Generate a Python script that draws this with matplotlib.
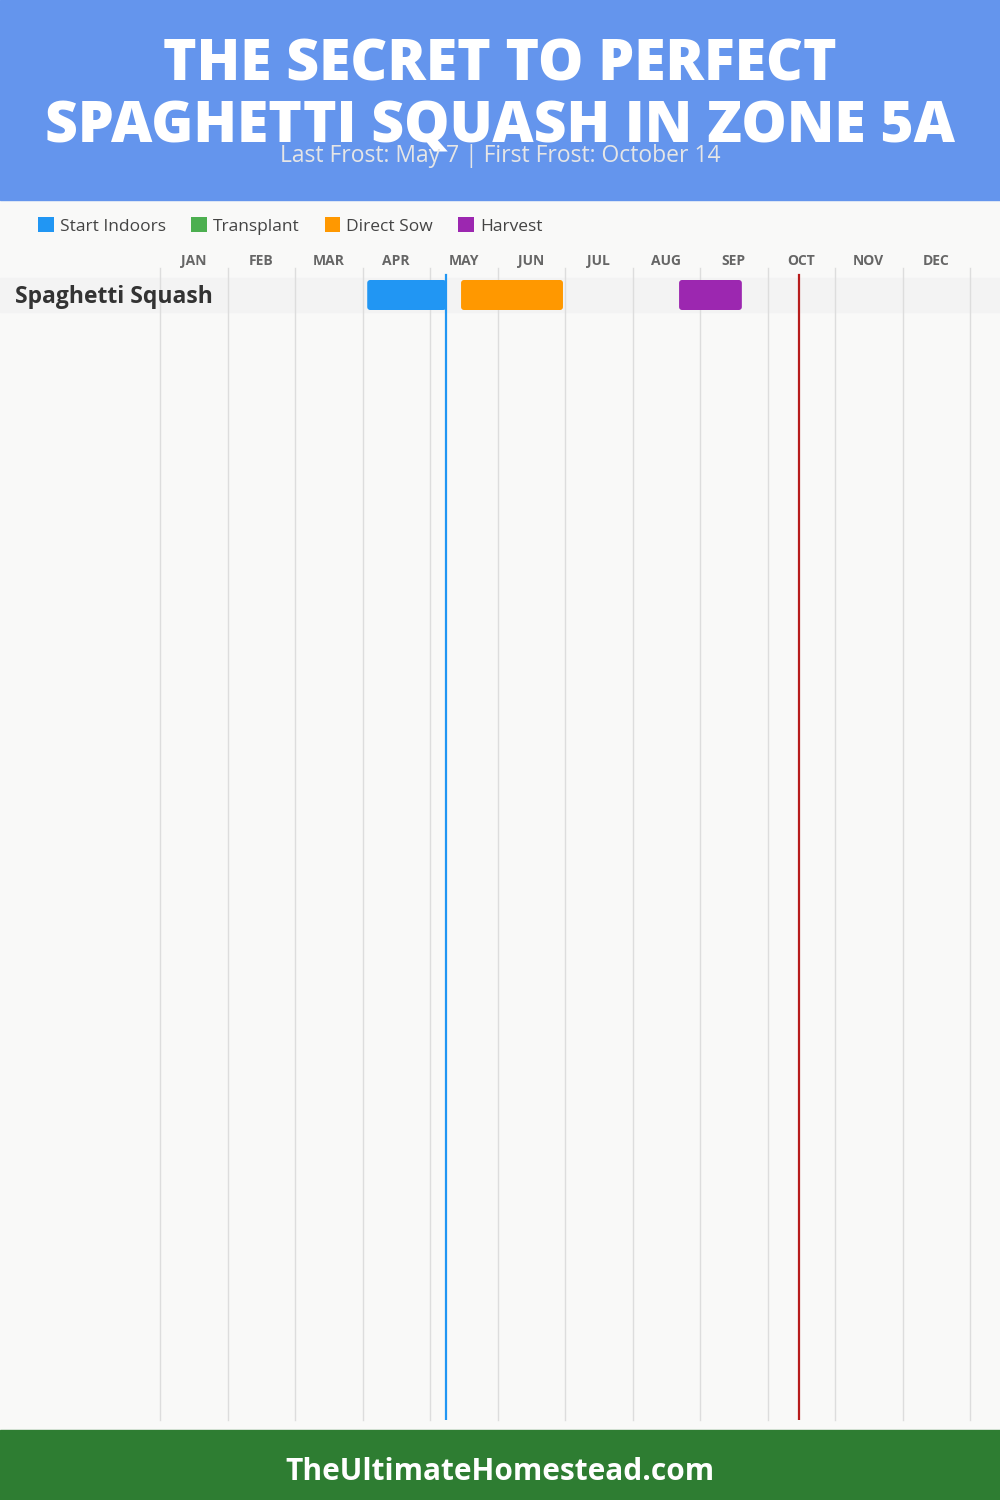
import matplotlib.pyplot as plt
import matplotlib.transforms as mtransforms
from matplotlib.patches import FancyBboxPatch, Patch, Rectangle

plt.rcParams['font.family'] = ['Open Sans', 'DejaVu Sans']

months = ["JAN", "FEB", "MAR", "APR", "MAY", "JUN",
          "JUL", "AUG", "SEP", "OCT", "NOV", "DEC"]
crops = ["Spaghetti Squash"]
# activity windows in months from Jan 1 (start, end)
start_indoors = [(3.07, 4.24)]
transplant = [None]
direct_sow = [(4.46, 5.97)]
harvest = [(7.69, 8.62)]
last_frost = 4.23   # May 7
first_frost = 9.47  # Oct 14

colors = {"Start Indoors": "#2196F3", "Transplant": "#4CAF50",
          "Direct Sow": "#FF9800", "Harvest": "#9C27B0"}

W, H = 1000, 1500
fig = plt.figure(figsize=(10, 15), dpi=100, facecolor="#f9f9f8")

# header and footer bands
fig.patches.append(Rectangle((0, 1 - 200 / H), 1, 200 / H, transform=fig.transFigure,
                             color="#6495ED", zorder=0))
fig.patches.append(Rectangle((0, 0), 1, 70 / H, transform=fig.transFigure,
                             color="#2E7D32", zorder=0))
fig.text(0.5, 1 - 66 / H, "THE SECRET TO PERFECT", ha="center", va="center",
         color="white", fontsize=41, fontweight="heavy")
fig.text(0.5, 1 - 128 / H, "SPAGHETTI SQUASH IN ZONE 5A", ha="center", va="center",
         color="white", fontsize=41, fontweight="heavy")
fig.text(0.5, 1 - 156 / H, "Last Frost: May 7 | First Frost: October 14", ha="center",
         va="center", color="#e6e6e6", fontsize=16.5)
fig.text(0.5, 1 - 1472 / H, "TheUltimateHomestead.com", ha="center", va="center",
         color="white", fontsize=21.5, fontweight="bold")

# chart axes: x in months, y in rows
top_px, bot_px = 268, 1420
row_h = 35.0
ax = fig.add_axes([160 / W, 1 - bot_px / H, 810 / W, (bot_px - top_px) / H])
ax.set_facecolor("none")
y_top = -(295 - top_px) / row_h
ax.set_ylim(y_top + (bot_px - top_px) / row_h, y_top)
ax.set_xlim(0, 12)
for s in ax.spines.values():
    s.set_visible(False)
ax.set_yticks([])
ax.set_xticks(range(13))
ax.tick_params(axis="x", length=0, labelbottom=False, labeltop=False)
ax.grid(axis="x", color="#dddddd", linewidth=1)
for gl in ax.get_xgridlines():
    gl.set_clip_on(False)
ax.set_axisbelow(True)
ax.set_xticks([i + 0.5 for i in range(12)], minor=True)
ax.set_xticklabels(months, minor=True)
ax.tick_params(axis="x", which="minor", length=0, top=False, bottom=False,
               labeltop=True, labelbottom=False, pad=2, labelsize=10,
               labelcolor="#666666")
for lbl in ax.get_xticklabels(minor=True):
    lbl.set_fontweight("bold")
    lbl.set_va("baseline")

xu = 810 / 12  # px per month
series = [("Start Indoors", start_indoors), ("Transplant", transplant),
          ("Direct Sow", direct_sow), ("Harvest", harvest)]
for i, crop in enumerate(crops):
    ax.axhspan(i - 17 / row_h, i + 17 / row_h, xmin=-160 / 810, xmax=1 + 30 / 810,
               color="#f3f3f3", zorder=0.5, clip_on=False)
    trans = mtransforms.blended_transform_factory(fig.transFigure, ax.transData)
    ax.text(15 / W, i + 2 / row_h, crop, transform=trans, ha="left", va="center",
            fontsize=16.5, fontweight="bold", color="#333333")
    for name, spans in series:
        if spans[i] is None:
            continue
        a, b = spans[i]
        hh = 15 / row_h
        box = FancyBboxPatch((a, i - hh), b - a, 2 * hh,
                             boxstyle="round,pad=0,rounding_size=%f" % (3 / xu),
                             mutation_aspect=xu / row_h,
                             facecolor=colors[name], edgecolor="none", zorder=2)
        ax.add_patch(box)

fy = (bot_px - 275) / (bot_px - top_px)
ax.axvline(last_frost, ymin=0, ymax=fy, color="#2196F3", linewidth=1.6, zorder=3)
ax.axvline(first_frost, ymin=0, ymax=fy, color="#B71C1C", linewidth=1.6, zorder=3)

handles = [Patch(facecolor=c, edgecolor="none", label=n) for n, c in colors.items()]
fig.legend(handles=handles, loc="center left", bbox_to_anchor=(38 / W, 1 - 226 / H),
           ncol=4, frameon=False, handlelength=0.9, handleheight=0.9,
           handletextpad=0.35, columnspacing=1.45, borderpad=0, borderaxespad=0,
           fontsize=12.5, labelcolor="#444444")

fig.savefig("out.png", dpi=100, facecolor=fig.get_facecolor())
